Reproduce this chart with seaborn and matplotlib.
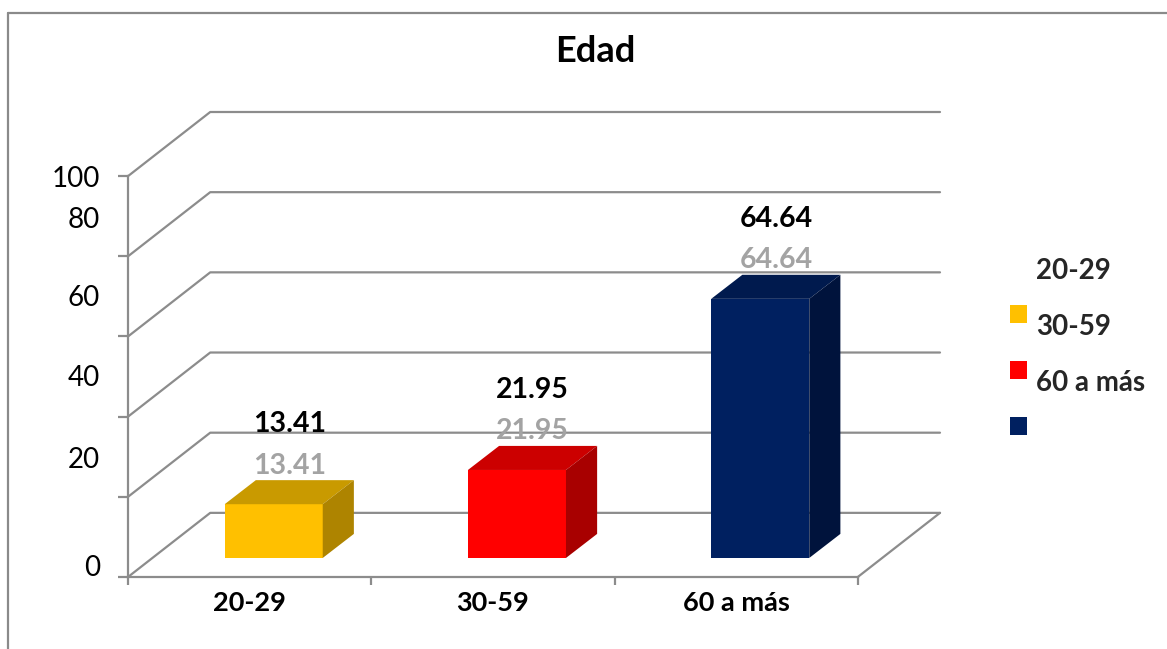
import numpy as np
import pandas as pd
import matplotlib
matplotlib.use('Agg')
import matplotlib.pyplot as plt
import matplotlib.transforms as mtransforms
from matplotlib.patches import Polygon, Patch, Rectangle
from matplotlib.lines import Line2D
from matplotlib.legend_handler import HandlerPatch
import seaborn as sns

# ---------------- data ----------------
categories = ['20-29', '30-59', '60 a más']
values = [13.41, 21.95, 64.64]
y_ticks = [0, 20, 40, 60, 80, 100]
legend_labels = ['20-29', '30-59', '60 a más', '']
title = 'Edad'

front_colors = ['#FFC000', '#FF0000', '#002060']
top_colors = ['#C99A00', '#CC0000', '#001A4E']
side_colors = ['#AE8400', '#A80000', '#00133C']

# ---------------- style ----------------
sns.set_theme(style='white')
plt.rcParams['font.family'] = ['Lato', 'DejaVu Sans']

W, H = 1167, 649
fig = plt.figure(figsize=(W / 100, H / 100), dpi=100)
fig.patch.set_facecolor('white')

x0px, x1px = 128, 940
y0px, y1px = 577, 112
ax = fig.add_axes([x0px / W, 1 - y0px / H, (x1px - x0px) / W, (y0px - y1px) / H])
ax.set_facecolor('none')

grid_c = '#8c8c8c'
dxb, dyb = 0.338, 16.0    # back-wall offset (oblique depth)
fx, fy = 0.099, 4.75      # bar front-face position in depth
ddx, ddy = 0.128, 6.0     # bar depth
bar_w = 0.403

df = pd.DataFrame({'cat': categories, 'val': values})
sns.barplot(data=df, x='cat', y='val', hue='cat', palette=front_colors,
            saturation=1, width=bar_w, legend=False, ax=ax, zorder=4)

ax.set_xlim(-0.5, 2.5 + dxb)
ax.set_ylim(0, y_ticks[-1] + dyb)
ax.set_xlabel('')
ax.set_ylabel('')

# walls / gridlines
for v in y_ticks:
    ax.plot([-0.5, -0.5 + dxb, 2.5 + dxb], [v, v + dyb, v + dyb],
            color=grid_c, lw=1.6, zorder=1, clip_on=False)
ax.plot([2.5, 2.5 + dxb], [0, dyb], color=grid_c, lw=1.6, zorder=1, clip_on=False)

# 3D bars: shift front faces into depth, add top and side faces
shift = mtransforms.Affine2D().translate(fx, fy) + ax.transData
bars = list(ax.patches)
for i, bar in enumerate(bars):
    bar.set_transform(shift)
    bar.set_edgecolor('none')
    bx0 = bar.get_x() + fx
    bx1 = bx0 + bar.get_width()
    by0 = bar.get_y() + fy
    by1 = by0 + bar.get_height()
    top = Polygon([(bx0, by1), (bx1, by1), (bx1 + ddx, by1 + ddy), (bx0 + ddx, by1 + ddy)],
                  closed=True, facecolor=top_colors[i], edgecolor='none', zorder=4)
    side = Polygon([(bx1, by0), (bx1 + ddx, by0 + ddy), (bx1 + ddx, by1 + ddy), (bx1, by1)],
                   closed=True, facecolor=side_colors[i], edgecolor='none', zorder=4)
    ax.add_patch(top)
    ax.add_patch(side)
    cx = bx0 + bar.get_width() / 2 + 0.065
    ytop = by1 + ddy
    ax.text(cx, ytop + 3.6, f'{values[i]:.2f}', ha='center', va='center',
            fontsize=20.5, fontweight='bold', color='#a3a3a3', zorder=5)
    ax.text(cx, ytop + 14.0, f'{values[i]:.2f}', ha='center', va='center',
            fontsize=20.5, fontweight='bold', color='black', zorder=5)

# spines
for s in ['top', 'right']:
    ax.spines[s].set_visible(False)
ax.spines['left'].set_bounds(0, y_ticks[-1])
ax.spines['bottom'].set_bounds(-0.5, 2.5)
for s in ['left', 'bottom']:
    ax.spines[s].set_color(grid_c)
    ax.spines[s].set_linewidth(1.6)

# ticks
ax.set_xticks(range(len(categories)))
ax.set_xticklabels(categories, fontsize=19.5, fontweight='bold', color='black')
ax.set_xticks(np.arange(len(categories) + 1) - 0.5, minor=True)
ax.tick_params(axis='x', which='major', length=0, pad=10, bottom=True)
ax.tick_params(axis='x', which='minor', length=6, width=1.6, color=grid_c,
               direction='out', bottom=True)
ax.set_yticks(y_ticks)
ax.set_yticklabels([str(t) for t in y_ticks], fontsize=20, color='black')
ax.tick_params(axis='y', length=7, width=1.6, color=grid_c, direction='out',
               pad=13, left=True)

# Excel-like displaced value-axis labels
label_offsets_px = [12, 39, 41, 41, 39, 0]
for lab, off in zip(ax.get_yticklabels(), label_offsets_px):
    lab.set_transform(lab.get_transform() +
                      mtransforms.ScaledTranslation(0, off / 100, fig.dpi_scale_trans))


# legend (markers sit slightly above their text, as in the original)
def raised_square(legend, orig_handle, xdescent, ydescent, width, height, fontsize):
    return Rectangle((-xdescent, -ydescent + 8), width, height)


handles = [Patch(facecolor='none', edgecolor='none')] + \
          [Patch(facecolor=c, edgecolor='none') for c in front_colors]
leg = fig.legend(handles, legend_labels, loc='upper left',
                 bbox_to_anchor=(1010 / W, 1 - 258 / H), frameon=False,
                 prop={'weight': 'bold', 'size': 20}, handlelength=0.62,
                 handleheight=0.62, handletextpad=0.33, labelspacing=1.08,
                 borderpad=0, borderaxespad=0,
                 handler_map={Patch: HandlerPatch(patch_func=raised_square)})

# title
fig.text(595 / W, 1 - 52 / H, title, ha='center', va='center',
         fontsize=26, fontweight='bold', color='black')

# chart border
fig.add_artist(Line2D([8 / W, 8 / W], [1 - 13 / H, 0], color='#8a8a8a', lw=1.6,
                      transform=fig.transFigure))
fig.add_artist(Line2D([8 / W, 1], [1 - 13 / H, 1 - 13 / H], color='#8a8a8a', lw=1.6,
                      transform=fig.transFigure))

fig.savefig('out.png', dpi=100)
